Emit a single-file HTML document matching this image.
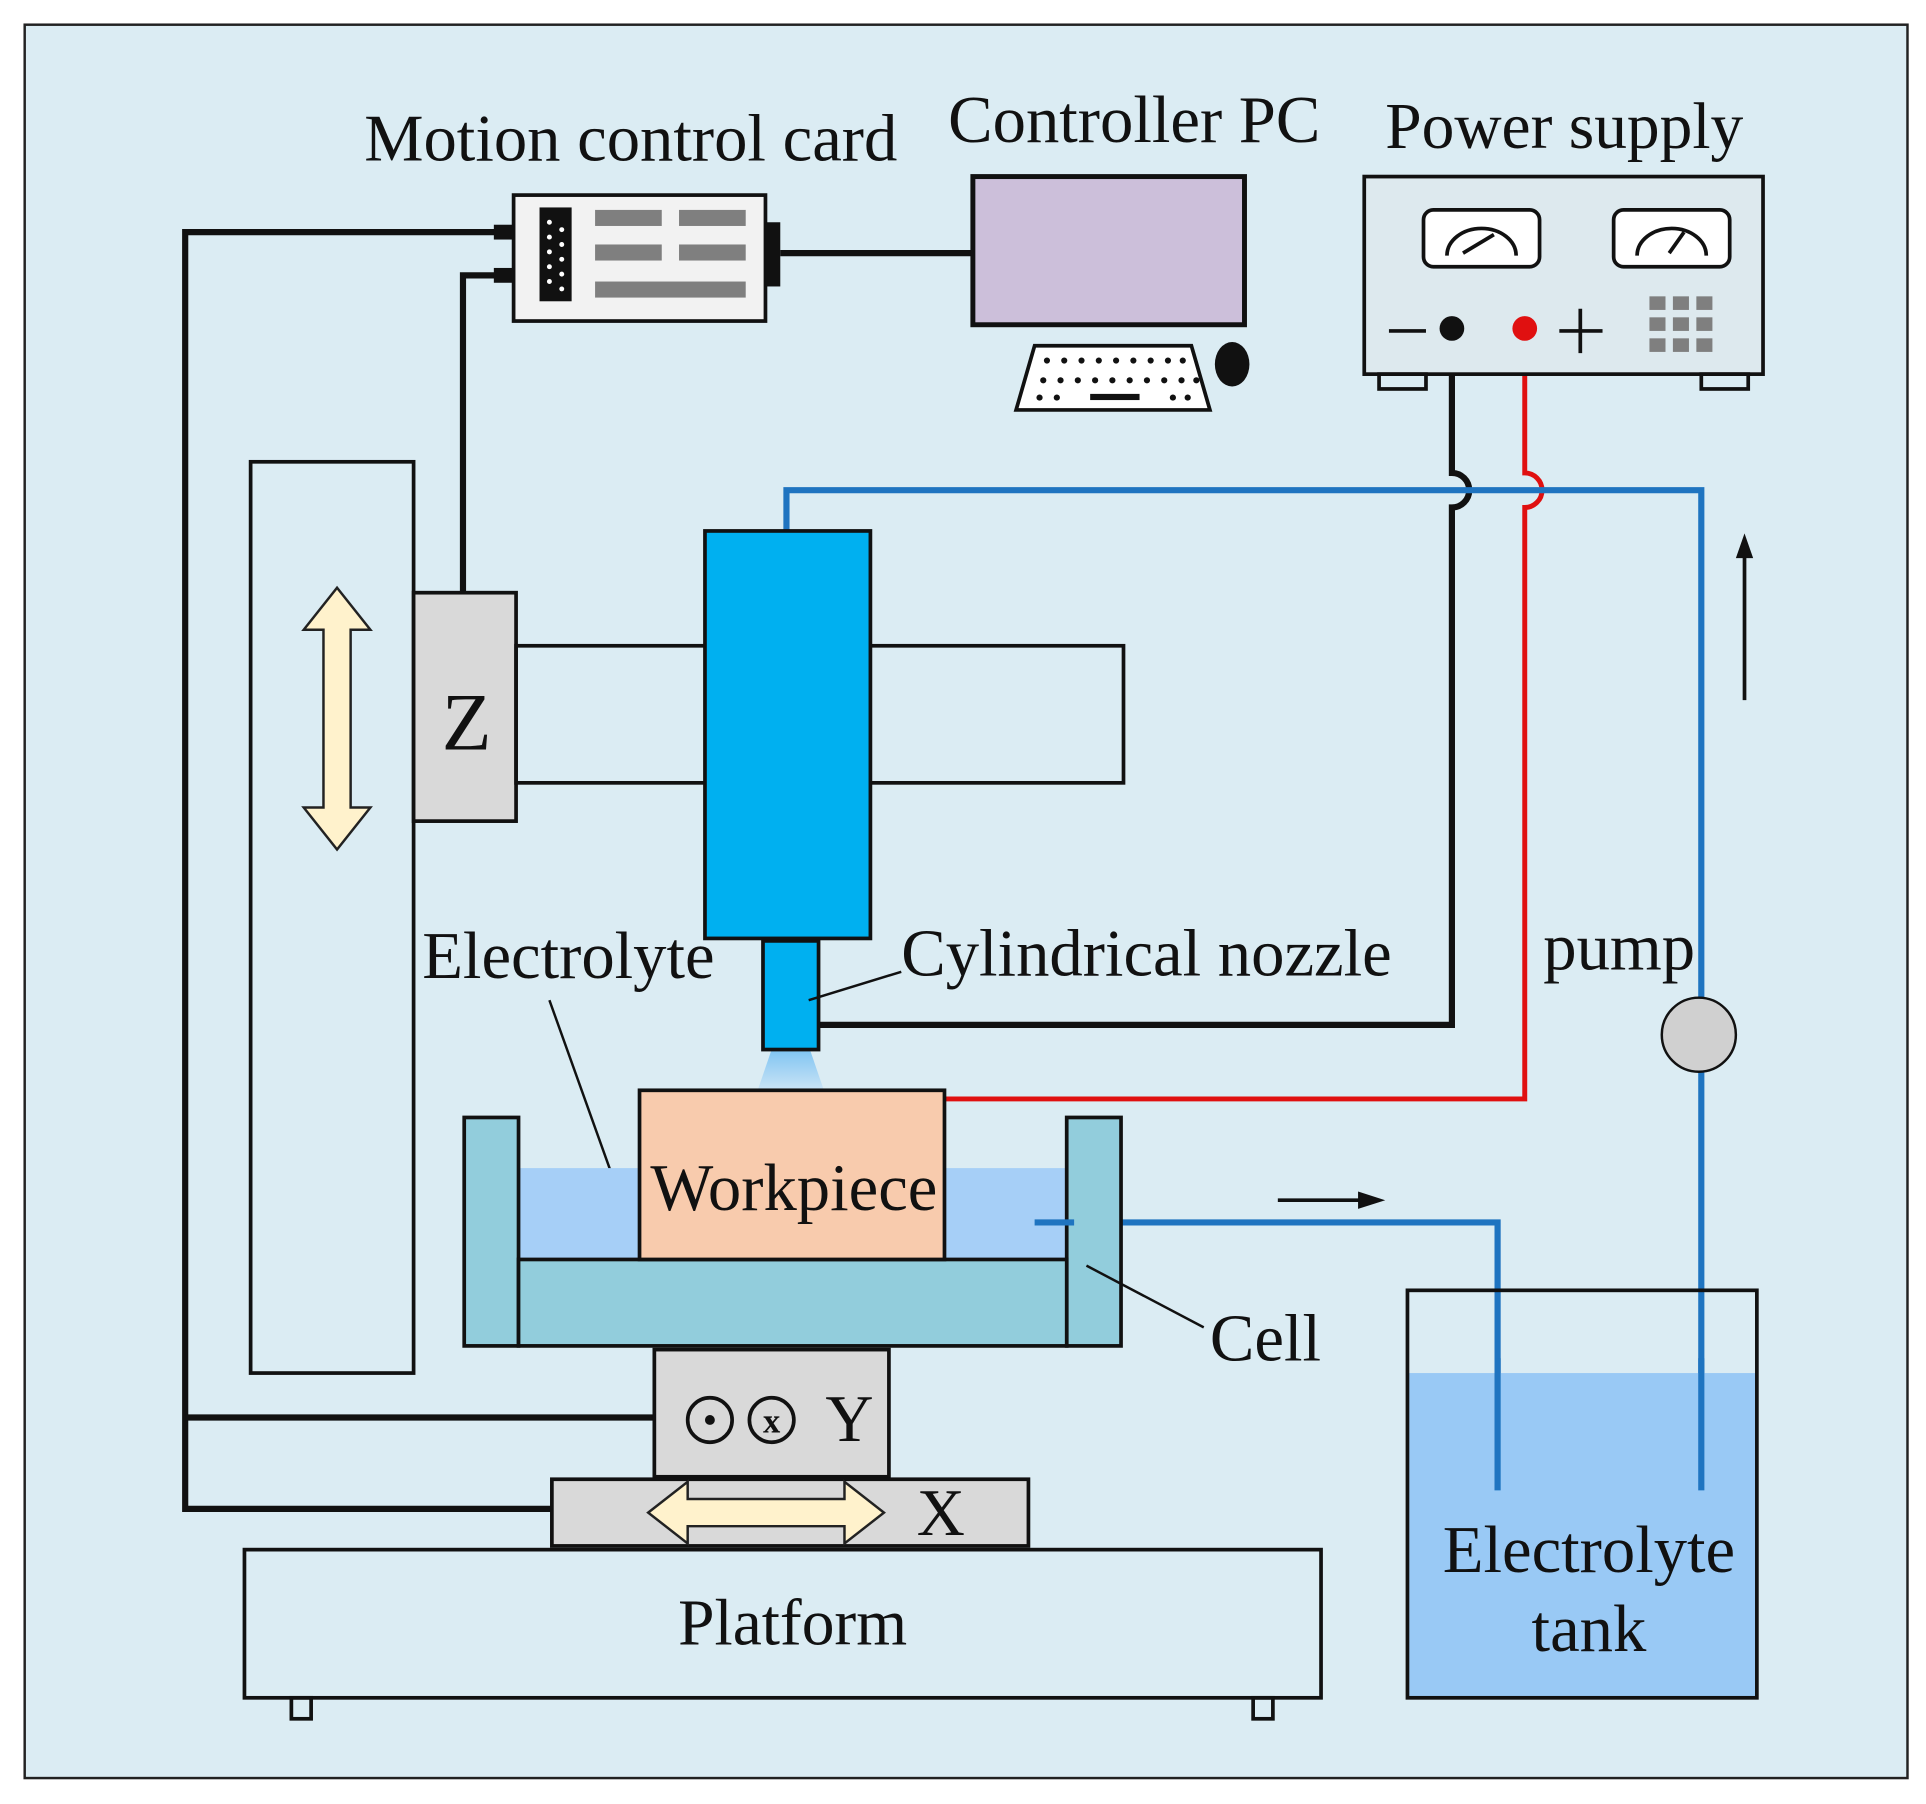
<!DOCTYPE html>
<html><head><meta charset="utf-8"><style>
html,body{margin:0;padding:0;background:#fff;}
svg{display:block;}
text{font-family:"Liberation Serif",serif;fill:#111;}
</style></head><body>
<svg width="1926" height="1804" viewBox="0 0 1560 1461" preserveAspectRatio="none" xmlns="http://www.w3.org/2000/svg">
<defs>
<linearGradient id="spray" x1="0" y1="0" x2="0" y2="1"><stop offset="0" stop-color="#7fc4f2"/><stop offset="1" stop-color="#cfe6f6"/></linearGradient>
</defs>
<rect x="20" y="20" width="1525" height="1420" fill="#dbecf3" stroke="#222" stroke-width="2"/>
<!-- titles -->
<text x="295" y="130" font-size="54">Motion control card</text>
<text x="768" y="115" font-size="54">Controller PC</text>
<text x="1122" y="120" font-size="53">Power supply</text>

<!-- wires black -->
<g fill="none" stroke="#111" stroke-width="5">
<polyline points="405,188 150,188 150,1222 447,1222"/>
<line x1="150" y1="1148" x2="530" y2="1148"/>
<polyline points="405,223 375,223 375,480"/>
<line x1="632" y1="205" x2="790" y2="205"/>
<path d="M1176,266 V383 A14,14 0 0 1 1176,411 V830 H660"/>
</g>
<path d="M1235,266 V383 A14,14 0 0 1 1235,411 V890 H765" fill="none" stroke="#e01010" stroke-width="4"/>

<!-- blue pipes -->
<g fill="none" stroke="#1f74c0" stroke-width="5">
<polyline points="637,432 637,397 1378,397 1378,810"/>
<line x1="1378" y1="866" x2="1378" y2="1207"/>
<polyline points="838,990 1213,990 1213,1207"/>
</g>
<!-- arrows -->
<line x1="1413" y1="567" x2="1413" y2="445" stroke="#111" stroke-width="3"/>
<polygon points="1413,432 1406,452 1420,452" fill="#111"/>
<line x1="1035" y1="972" x2="1105" y2="972" stroke="#111" stroke-width="3"/>
<polygon points="1122,972 1100,965 1100,979" fill="#111"/>

<!-- motion card -->
<rect x="416" y="158" width="204" height="102" fill="#f2f2f2" stroke="#111" stroke-width="3"/>
<rect x="400" y="182" width="16" height="12" fill="#111"/>
<rect x="400" y="217" width="16" height="12" fill="#111"/>
<rect x="620" y="180" width="12" height="52" fill="#111"/>
<rect x="437" y="168" width="26" height="76" fill="#111"/>
<g fill="#fff"><circle cx="445" cy="180" r="2"/><circle cx="455" cy="186" r="2"/><circle cx="445" cy="192" r="2"/><circle cx="455" cy="198" r="2"/><circle cx="445" cy="204" r="2"/><circle cx="455" cy="210" r="2"/><circle cx="445" cy="216" r="2"/><circle cx="455" cy="222" r="2"/><circle cx="445" cy="228" r="2"/><circle cx="455" cy="234" r="2"/></g>
<g fill="#7f7f7f"><rect x="482" y="170" width="54" height="13"/><rect x="550" y="170" width="54" height="13"/><rect x="482" y="198" width="54" height="13"/><rect x="550" y="198" width="54" height="13"/><rect x="482" y="228" width="122" height="13"/></g>

<!-- PC -->
<rect x="788" y="143" width="220" height="120" fill="#ccbfda" stroke="#111" stroke-width="4"/>
<polygon points="838,280 965,280 980,332 823,332" fill="#fff" stroke="#111" stroke-width="3"/>
<g fill="#111">
<circle cx="848" cy="292" r="2.5"/><circle cx="862" cy="292" r="2.5"/><circle cx="876" cy="292" r="2.5"/><circle cx="890" cy="292" r="2.5"/><circle cx="904" cy="292" r="2.5"/><circle cx="918" cy="292" r="2.5"/><circle cx="932" cy="292" r="2.5"/><circle cx="946" cy="292" r="2.5"/><circle cx="958" cy="292" r="2.5"/>
<circle cx="845" cy="308" r="2.5"/><circle cx="859" cy="308" r="2.5"/><circle cx="873" cy="308" r="2.5"/><circle cx="887" cy="308" r="2.5"/><circle cx="901" cy="308" r="2.5"/><circle cx="915" cy="308" r="2.5"/><circle cx="929" cy="308" r="2.5"/><circle cx="943" cy="308" r="2.5"/><circle cx="957" cy="308" r="2.5"/><circle cx="969" cy="308" r="2.5"/>
<circle cx="842" cy="322" r="2.5"/><circle cx="856" cy="322" r="2.5"/><rect x="883" y="319" width="40" height="5"/><circle cx="950" cy="322" r="2.5"/><circle cx="962" cy="322" r="2.5"/>
<ellipse cx="998" cy="295" rx="14" ry="18"/>
</g>

<!-- power supply -->
<rect x="1105" y="143" width="323" height="160" fill="#dde9ee" stroke="#111" stroke-width="3"/>
<rect x="1117" y="303" width="38" height="12" fill="none" stroke="#111" stroke-width="3"/>
<rect x="1378" y="303" width="38" height="12" fill="none" stroke="#111" stroke-width="3"/>
<rect x="1153" y="170" width="94" height="46" rx="8" fill="#fff" stroke="#111" stroke-width="3"/>
<rect x="1307" y="170" width="94" height="46" rx="8" fill="#fff" stroke="#111" stroke-width="3"/>
<path d="M1172,207 A28,22 0 0 1 1228,207 M1185,205 L1210,190" fill="none" stroke="#111" stroke-width="3"/>
<path d="M1326,207 A28,22 0 0 1 1382,207 M1352,205 L1364,188" fill="none" stroke="#111" stroke-width="3"/>
<line x1="1125" y1="268" x2="1155" y2="268" stroke="#111" stroke-width="3"/>
<circle cx="1176" cy="266" r="10" fill="#111"/>
<circle cx="1235" cy="266" r="10" fill="#e01010"/>
<path d="M1263,268 H1298 M1280,250 V286" stroke="#111" stroke-width="3"/>
<g fill="#7f7f7f">
<rect x="1336" y="240" width="13" height="11"/><rect x="1355" y="240" width="13" height="11"/><rect x="1374" y="240" width="13" height="11"/>
<rect x="1336" y="257" width="13" height="11"/><rect x="1355" y="257" width="13" height="11"/><rect x="1374" y="257" width="13" height="11"/>
<rect x="1336" y="274" width="13" height="11"/><rect x="1355" y="274" width="13" height="11"/><rect x="1374" y="274" width="13" height="11"/>
</g>

<!-- Z column -->
<rect x="203" y="374" width="132" height="738" fill="none" stroke="#111" stroke-width="3"/>
<rect x="335" y="480" width="83" height="185" fill="#d9d9d9" stroke="#111" stroke-width="3"/>
<text x="378" y="607" font-size="66" text-anchor="middle">Z</text>
<polygon points="273,476 300,510 284,510 284,654 300,654 273,688 246,654 262,654 262,510 246,510" fill="#fff2cc" stroke="#222" stroke-width="2"/>
<rect x="418" y="523" width="492" height="111" fill="none" stroke="#111" stroke-width="3"/>

<!-- spindle + nozzle -->
<rect x="571" y="430" width="134" height="330" fill="#00b0f0" stroke="#111" stroke-width="3"/>
<polygon points="625,850 656,850 668,885 613,885" fill="url(#spray)"/>
<rect x="618" y="762" width="45" height="88" fill="#00b0f0" stroke="#111" stroke-width="3"/>

<!-- labels -->
<text x="342" y="792" font-size="54">Electrolyte</text>
<line x1="445" y1="810" x2="498" y2="958" stroke="#111" stroke-width="2"/>
<text x="730" y="790" font-size="54">Cylindrical nozzle</text>
<line x1="730" y1="787" x2="655" y2="810" stroke="#111" stroke-width="2"/>
<text x="1250" y="785" font-size="54">pump</text>
<circle cx="1376" cy="838" r="30" fill="#d0d0d0" stroke="#111" stroke-width="2"/>

<!-- cell -->
<rect x="420" y="946" width="444" height="74" fill="#a6cff7"/>
<rect x="376" y="905" width="44" height="185" fill="#92cddc" stroke="#111" stroke-width="3"/>
<rect x="864" y="905" width="44" height="185" fill="#92cddc" stroke="#111" stroke-width="3"/>
<rect x="420" y="1020" width="444" height="70" fill="#92cddc" stroke="#111" stroke-width="3"/>
<rect x="518" y="883" width="247" height="137" fill="#f8cbad" stroke="#111" stroke-width="3"/>
<text x="643" y="980" font-size="54" text-anchor="middle">Workpiece</text>
<line x1="880" y1="1025" x2="975" y2="1075" stroke="#111" stroke-width="2"/>
<text x="980" y="1102" font-size="54">Cell</text>
<line x1="838" y1="990" x2="870" y2="990" stroke="#1f74c0" stroke-width="5"/>

<!-- stages -->
<rect x="530" y="1093" width="190" height="103" fill="#d9d9d9" stroke="#111" stroke-width="3"/>
<circle cx="575" cy="1150" r="18" fill="none" stroke="#111" stroke-width="3"/><circle cx="575" cy="1150" r="4" fill="#111"/>
<circle cx="625" cy="1150" r="18" fill="none" stroke="#111" stroke-width="3"/>
<text x="625" y="1160" font-size="28" text-anchor="middle" font-weight="bold">x</text>
<text x="688" y="1167" font-size="54" text-anchor="middle">Y</text>
<rect x="447" y="1198" width="386" height="54" fill="#d9d9d9" stroke="#111" stroke-width="3"/>
<polygon points="525,1225 557,1200 557,1214 684,1214 684,1200 716,1225 684,1250 684,1236 557,1236 557,1250" fill="#fff2cc" stroke="#222" stroke-width="2"/>
<text x="762" y="1243" font-size="54" text-anchor="middle">X</text>

<!-- platform -->
<rect x="198" y="1255" width="872" height="120" fill="none" stroke="#111" stroke-width="3"/>
<text x="642" y="1332" font-size="53" text-anchor="middle">Platform</text>
<rect x="236" y="1375" width="16" height="17" fill="none" stroke="#111" stroke-width="3"/>
<rect x="1015" y="1375" width="16" height="17" fill="none" stroke="#111" stroke-width="3"/>

<!-- tank -->
<rect x="1140" y="1112" width="283" height="263" fill="#99c9f5"/>
<rect x="1140" y="1045" width="283" height="330" fill="none" stroke="#111" stroke-width="3"/>
<line x1="1213" y1="1100" x2="1213" y2="1207" stroke="#1f74c0" stroke-width="5"/>
<line x1="1378" y1="1100" x2="1378" y2="1207" stroke="#1f74c0" stroke-width="5"/>
<text x="1287" y="1273" font-size="54" text-anchor="middle">Electrolyte</text>
<text x="1287" y="1337" font-size="54" text-anchor="middle">tank</text>
</svg>
</body></html>
